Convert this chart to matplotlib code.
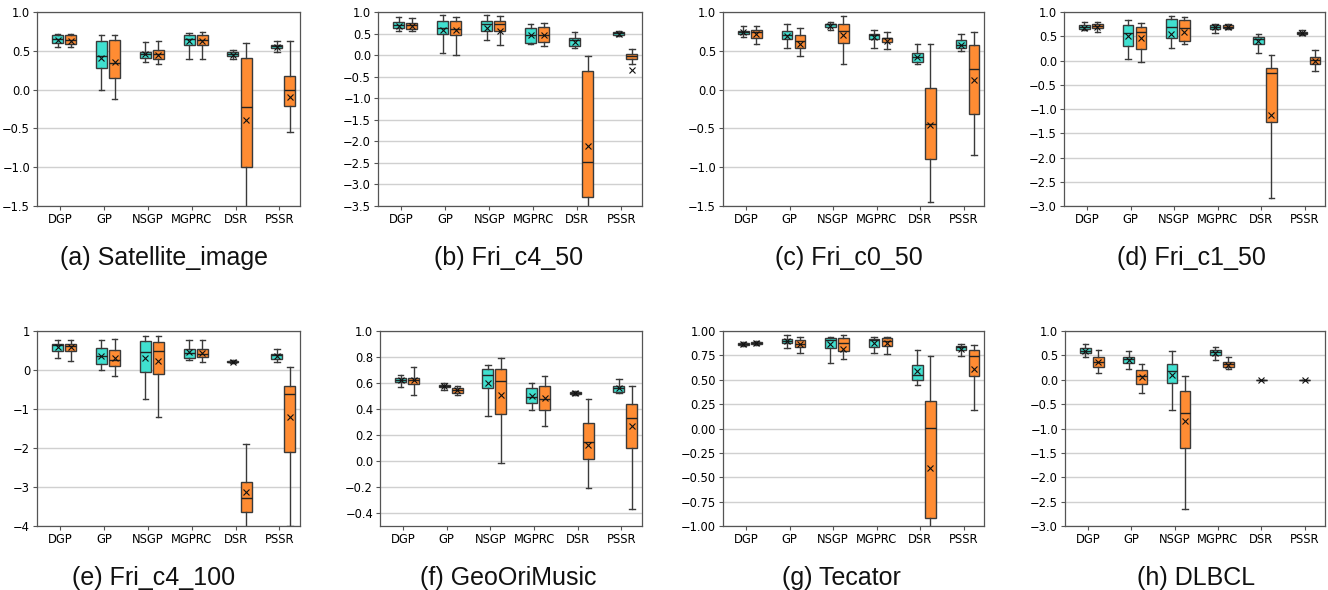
import matplotlib
matplotlib.use("Agg")
import matplotlib.pyplot as plt
import numpy as np

categories = ['DGP', 'GP', 'NSGP', 'MGPRC', 'DSR', 'PSSR']
captions = ['(a) Satellite_image', '(b) Fri_c4_50', '(c) Fri_c0_50', '(d) Fri_c1_50',
            '(e) Fri_c4_100', '(f) GeoOriMusic', '(g) Tecator', '(h) DLBCL']

# each entry: [whislo, q1, median, q3, whishi, mean]
a_cyan = [[0.55, 0.60, 0.65, 0.71, 0.72, 0.64], [0.00, 0.28, 0.43, 0.62, 0.71, 0.41],
          [0.35, 0.41, 0.46, 0.49, 0.61, 0.455], [0.40, 0.58, 0.65, 0.70, 0.73, 0.62],
          [0.40, 0.43, 0.46, 0.48, 0.51, 0.45], [0.48, 0.53, 0.56, 0.575, 0.62, 0.55]]
a_orange = [[0.55, 0.59, 0.635, 0.70, 0.72, 0.63], [-0.12, 0.15, 0.34, 0.64, 0.71, 0.35],
            [0.33, 0.39, 0.46, 0.51, 0.63, 0.45], [0.40, 0.58, 0.64, 0.70, 0.74, 0.62],
            [-2.0, -1.0, -0.23, 0.41, 0.60, -0.39], [-0.55, -0.21, -0.01, 0.17, 0.63, -0.09]]

b_cyan = [[0.57, 0.63, 0.71, 0.77, 0.88, 0.68], [0.05, 0.50, 0.64, 0.79, 0.92, 0.59],
          [0.34, 0.56, 0.73, 0.79, 0.93, 0.63], [0.26, 0.28, 0.475, 0.63, 0.72, 0.475],
          [0.17, 0.22, 0.34, 0.40, 0.54, 0.31], [0.45, 0.47, 0.51, 0.53, 0.55, 0.50]]
b_orange = [[0.57, 0.61, 0.71, 0.75, 0.85, 0.67], [0.0, 0.46, 0.61, 0.78, 0.89, 0.58],
            [0.24, 0.55, 0.73, 0.79, 0.91, 0.55], [0.22, 0.31, 0.475, 0.645, 0.74, 0.475],
            [-4.0, -3.28, -2.49, -0.38, -0.02, -2.10], [-0.21, -0.08, -0.01, 0.02, 0.14, -0.35]]

c_cyan = [[0.68, 0.72, 0.74, 0.76, 0.82, 0.74], [0.54, 0.65, 0.71, 0.75, 0.84, 0.69],
          [0.77, 0.81, 0.84, 0.85, 0.87, 0.82], [0.54, 0.65, 0.70, 0.72, 0.77, 0.68],
          [0.33, 0.35, 0.42, 0.47, 0.59, 0.42], [0.50, 0.53, 0.58, 0.64, 0.72, 0.58]]
c_orange = [[0.59, 0.67, 0.74, 0.77, 0.82, 0.72], [0.43, 0.53, 0.62, 0.70, 0.79, 0.59],
            [0.33, 0.60, 0.76, 0.84, 0.95, 0.70], [0.52, 0.61, 0.665, 0.67, 0.74, 0.63],
            [-1.45, -0.90, -0.44, 0.02, 0.59, -0.46], [-0.84, -0.31, 0.26, 0.58, 0.74, 0.13]]

d_cyan = [[0.62, 0.64, 0.70, 0.74, 0.79, 0.68], [0.04, 0.29, 0.57, 0.73, 0.83, 0.50],
          [0.26, 0.46, 0.70, 0.86, 0.92, 0.55], [0.56, 0.64, 0.70, 0.73, 0.76, 0.69],
          [0.16, 0.33, 0.45, 0.49, 0.55, 0.41], [0.52, 0.55, 0.57, 0.59, 0.62, 0.56]]
d_orange = [[0.58, 0.66, 0.72, 0.75, 0.79, 0.70], [-0.04, 0.23, 0.59, 0.70, 0.78, 0.46],
            [0.33, 0.41, 0.66, 0.84, 0.90, 0.59], [0.65, 0.68, 0.70, 0.73, 0.75, 0.70],
            [-2.84, -1.27, -0.26, -0.15, 0.11, -1.13], [-0.21, -0.07, 0.005, 0.07, 0.21, 0.0]]

e_cyan = [[0.32, 0.48, 0.64, 0.67, 0.76, 0.59], [0.0, 0.15, 0.35, 0.56, 0.78, 0.35],
          [-0.74, -0.06, 0.46, 0.75, 0.88, 0.30], [0.25, 0.32, 0.44, 0.53, 0.78, 0.45],
          [0.18, 0.20, 0.21, 0.23, 0.25, 0.21], [0.20, 0.28, 0.38, 0.42, 0.55, 0.37]]
e_orange = [[0.24, 0.49, 0.62, 0.67, 0.76, 0.58], [-0.16, 0.10, 0.26, 0.52, 0.79, 0.31],
            [-1.21, -0.11, 0.48, 0.71, 0.88, 0.24], [0.20, 0.34, 0.41, 0.53, 0.76, 0.43],
            [-4.5, -3.63, -3.29, -2.88, -1.90, -3.14], [-3.99, -2.11, -0.62, -0.40, 0.07, -1.20]]

f_cyan = [[0.57, 0.61, 0.625, 0.64, 0.66, 0.62], [0.55, 0.567, 0.577, 0.585, 0.60, 0.575],
          [0.345, 0.56, 0.66, 0.71, 0.74, 0.60], [0.39, 0.445, 0.49, 0.565, 0.60, 0.50],
          [0.51, 0.515, 0.525, 0.53, 0.54, 0.525], [0.52, 0.53, 0.56, 0.575, 0.63, 0.56]]
f_orange = [[0.505, 0.59, 0.62, 0.64, 0.72, 0.62], [0.51, 0.52, 0.545, 0.56, 0.577, 0.545],
            [-0.015, 0.365, 0.615, 0.705, 0.79, 0.51], [0.27, 0.395, 0.48, 0.575, 0.655, 0.485],
            [-0.21, 0.015, 0.146, 0.29, 0.48, 0.125], [-0.37, 0.10, 0.33, 0.44, 0.575, 0.27]]

g_cyan = [[0.846, 0.856, 0.867, 0.873, 0.887, 0.867], [0.83, 0.877, 0.897, 0.914, 0.96, 0.897],
          [0.675, 0.83, 0.904, 0.928, 0.94, 0.867], [0.777, 0.832, 0.904, 0.914, 0.935, 0.873],
          [0.445, 0.493, 0.545, 0.647, 0.81, 0.585], [0.746, 0.81, 0.84, 0.85, 0.866, 0.82]]
g_orange = [[0.853, 0.863, 0.877, 0.887, 0.90, 0.877], [0.77, 0.84, 0.87, 0.904, 0.935, 0.867],
            [0.71, 0.80, 0.877, 0.925, 0.955, 0.82], [0.76, 0.846, 0.90, 0.925, 0.935, 0.873],
            [-1.2, -0.92, 0.003, 0.284, 0.74, -0.40], [0.19, 0.54, 0.74, 0.81, 0.853, 0.61]]

h_cyan = [[0.47, 0.55, 0.60, 0.66, 0.73, 0.60], [0.22, 0.34, 0.42, 0.46, 0.58, 0.40],
          [-0.62, -0.06, 0.17, 0.32, 0.58, 0.09], [0.40, 0.50, 0.56, 0.62, 0.68, 0.55],
          None, None]
h_orange = [[0.13, 0.27, 0.37, 0.46, 0.62, 0.36], [-0.27, -0.08, 0.07, 0.21, 0.33, 0.05],
            [-2.66, -1.39, -0.68, -0.24, 0.07, -0.85], [0.23, 0.27, 0.33, 0.37, 0.46, 0.30],
            None, None]
# DSR and PSSR in (h): a single collapsed result drawn at the category centre
h_single = [None, None, None, None, [0.0] * 6, [0.0] * 6]

panels = [(a_cyan, a_orange), (b_cyan, b_orange), (c_cyan, c_orange), (d_cyan, d_orange),
          (e_cyan, e_orange), (f_cyan, f_orange), (g_cyan, g_orange), (h_cyan, h_orange)]
ylims = [(-1.5, 1.0), (-3.5, 1.0), (-1.5, 1.0), (-3.0, 1.0),
         (-4, 1), (-0.5, 1.0), (-1.0, 1.0), (-3.0, 1.0)]
yticks = [np.arange(-1.5, 1.01, 0.5), np.arange(-3.5, 1.01, 0.5), np.arange(-1.5, 1.01, 0.5),
          np.arange(-3.0, 1.01, 0.5), np.arange(-4, 1.01, 1), np.arange(-0.4, 1.01, 0.2),
          np.arange(-1.0, 1.01, 0.25), np.arange(-3.0, 1.01, 0.5)]
yfmts = ['{:.1f}', '{:.1f}', '{:.1f}', '{:.1f}', '{:.0f}', '{:.1f}', '{:.2f}', '{:.1f}']

CYAN = '#40E0D0'
ORANGE = '#FF8C33'
EDGE = '#3a3a3a'

W, H = 1328, 590
fig = plt.figure(figsize=(W / 100, H / 100), dpi=100)

lefts_top = [37, 378, 723, 1064]
rights_top = [300, 642, 984, 1325]
lefts_bot = [37, 380, 723, 1065]
rights_bot = [300, 642, 984, 1325]
cap_x = [164, 509, 849, 1191, 154, 508, 841, 1196]


def to_stats(v):
    return dict(whislo=v[0], q1=v[1], med=v[2], q3=v[3], whishi=v[4], mean=v[5], fliers=[])


for k, (cy, orr) in enumerate(panels):
    row = k // 4
    col = k % 4
    if row == 0:
        l, r, t, b = lefts_top[col], rights_top[col], 12, 206
    else:
        l, r, t, b = lefts_bot[col], rights_bot[col], 331, 526
    ax = fig.add_axes([l / W, 1 - b / H, (r - l) / W, (b - t) / H])
    ax.set_axisbelow(True)
    ax.yaxis.grid(True, color='#d0d0d0', lw=1.0)

    common = dict(widths=0.25, showmeans=True, patch_artist=True, manage_ticks=False,
                  whiskerprops=dict(color=EDGE, lw=1.0),
                  capprops=dict(color=EDGE, lw=1.0),
                  medianprops=dict(color='#222222', lw=1.0),
                  meanprops=dict(marker='x', markeredgecolor='#111111', markersize=4,
                                 markeredgewidth=0.8))
    for series, off, colr in ((cy, -0.06, CYAN), (orr, 0.24, ORANGE)):
        idx = [i for i, v in enumerate(series) if v is not None]
        st = [to_stats(series[i]) for i in idx]
        bp = ax.bxp(st, positions=[i + off for i in idx], **common)
        for p in bp['boxes']:
            p.set_facecolor(colr)
            p.set_edgecolor(EDGE)
            p.set_linewidth(1.0)
    if k == 7:
        idx = [i for i, v in enumerate(h_single) if v is not None]
        st = [to_stats(h_single[i]) for i in idx]
        bp = ax.bxp(st, positions=idx, **common)
        for p in bp['boxes']:
            p.set_facecolor('none')
            p.set_edgecolor(EDGE)

    ax.set_xlim(-0.53, 5.47)
    ax.set_xticks(range(len(categories)))
    ax.set_xticklabels(categories, fontsize=8.3)
    ax.set_ylim(*ylims[k])
    ax.set_yticks(yticks[k])
    ax.set_yticklabels([yfmts[k].format(v).replace('-', '\u2212') for v in yticks[k]], fontsize=8.3)
    ax.tick_params(length=3, width=0.8, color='#555555', pad=2)
    for s in ax.spines.values():
        s.set_color('#555555')
        s.set_linewidth(0.9)

    cy_pix = 258 if row == 0 else 578
    fig.text(cap_x[k] / W, 1 - cy_pix / H, captions[k], ha='center', va='center',
             fontsize=18, family=['Liberation Sans', 'DejaVu Sans'], color='#111111')

fig.savefig('out.png', dpi=100)
